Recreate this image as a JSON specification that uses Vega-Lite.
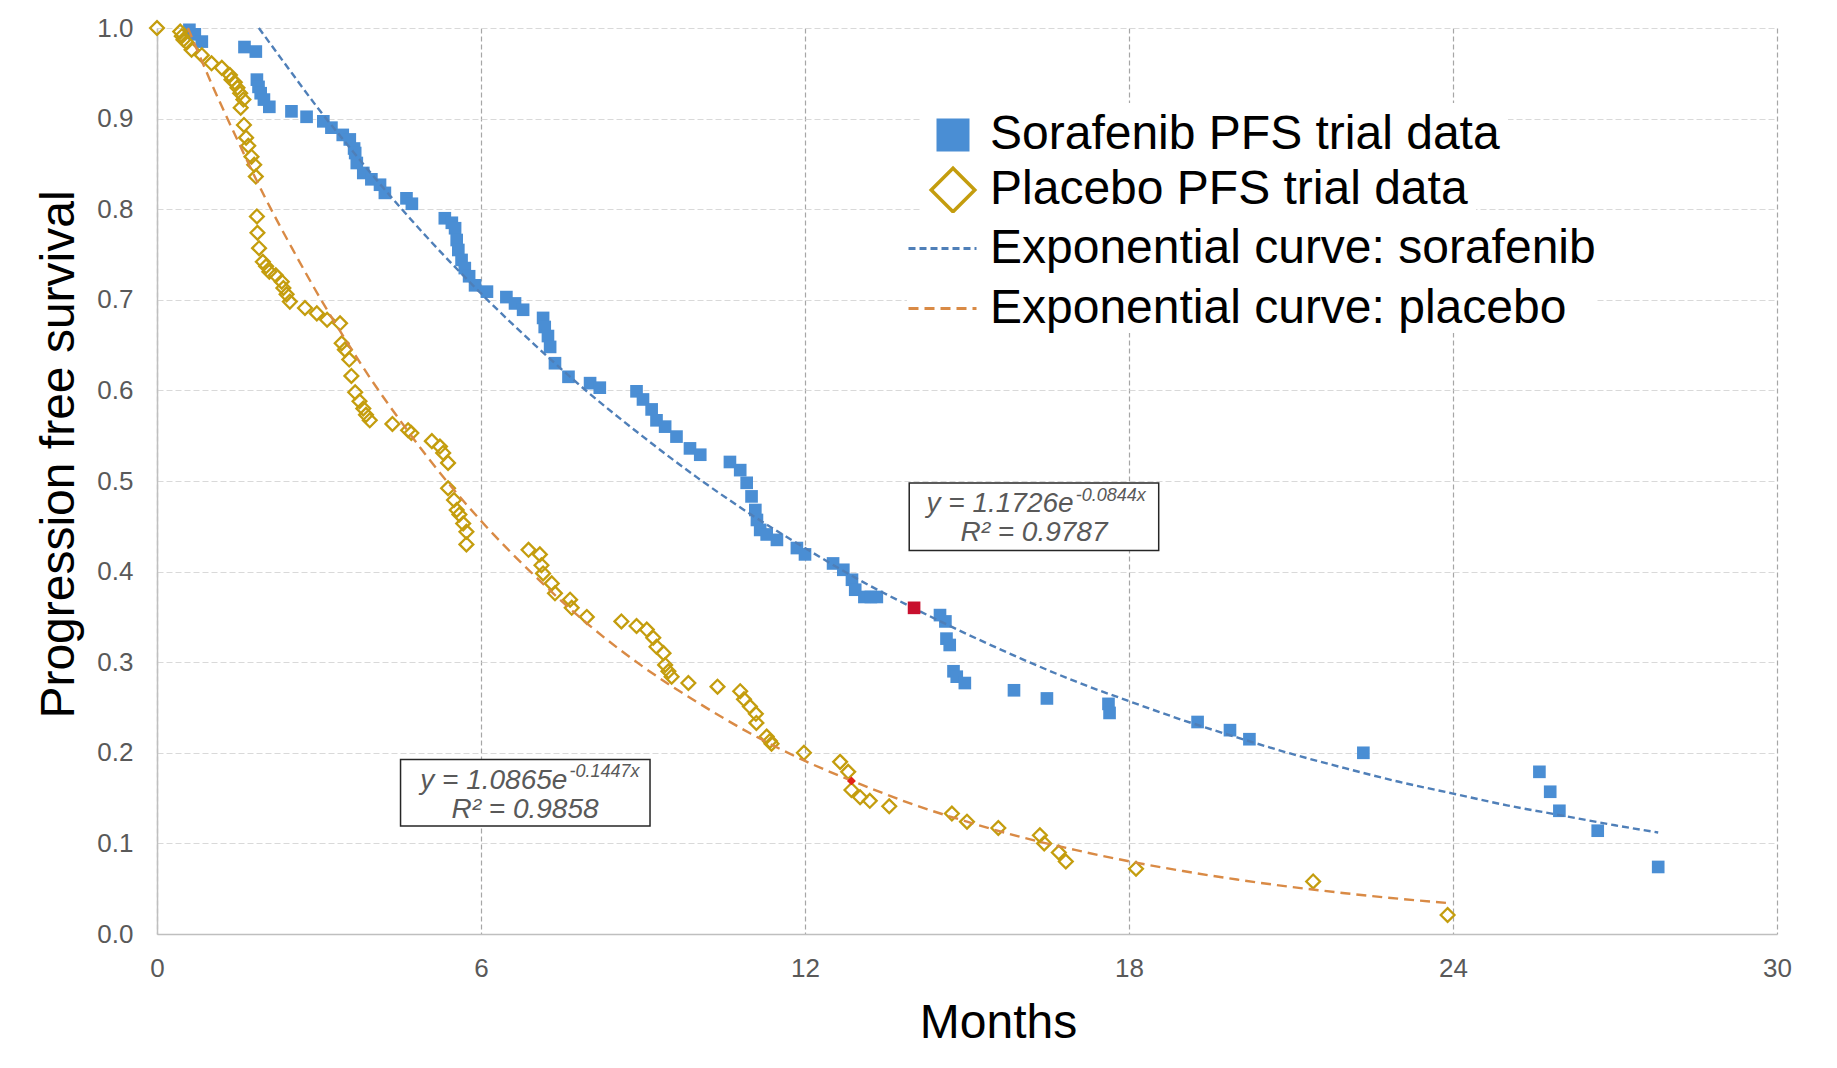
{
  "$schema": "https://vega.github.io/schema/vega-lite/v6.json",
  "width": 1620,
  "height": 906,
  "autosize": {"type": "none"},
  "padding": {"left": 157, "top": 28, "right": 60, "bottom": 134},
  "background": "#ffffff",
  "config": {
    "view": {"stroke": null},
    "font": "Liberation Sans",
    "legend": {"labelFont": "Liberation Sans", "labelFontSize": 48, "labelColor": "#000000", "labelLimit": 0}
  },
  "datasets": {
    "sora": [
      {"month": 0.60, "pfs": 0.998, "series": "Sorafenib PFS trial data"},
      {"month": 0.70, "pfs": 0.993, "series": "Sorafenib PFS trial data"},
      {"month": 0.83, "pfs": 0.985, "series": "Sorafenib PFS trial data"},
      {"month": 1.62, "pfs": 0.979, "series": "Sorafenib PFS trial data"},
      {"month": 1.83, "pfs": 0.974, "series": "Sorafenib PFS trial data"},
      {"month": 1.85, "pfs": 0.943, "series": "Sorafenib PFS trial data"},
      {"month": 1.88, "pfs": 0.935, "series": "Sorafenib PFS trial data"},
      {"month": 1.92, "pfs": 0.928, "series": "Sorafenib PFS trial data"},
      {"month": 1.98, "pfs": 0.921, "series": "Sorafenib PFS trial data"},
      {"month": 2.08, "pfs": 0.913, "series": "Sorafenib PFS trial data"},
      {"month": 2.49, "pfs": 0.908, "series": "Sorafenib PFS trial data"},
      {"month": 2.77, "pfs": 0.902, "series": "Sorafenib PFS trial data"},
      {"month": 3.08, "pfs": 0.897, "series": "Sorafenib PFS trial data"},
      {"month": 3.23, "pfs": 0.890, "series": "Sorafenib PFS trial data"},
      {"month": 3.44, "pfs": 0.882, "series": "Sorafenib PFS trial data"},
      {"month": 3.57, "pfs": 0.877, "series": "Sorafenib PFS trial data"},
      {"month": 3.65, "pfs": 0.867, "series": "Sorafenib PFS trial data"},
      {"month": 3.67, "pfs": 0.862, "series": "Sorafenib PFS trial data"},
      {"month": 3.70, "pfs": 0.851, "series": "Sorafenib PFS trial data"},
      {"month": 3.82, "pfs": 0.840, "series": "Sorafenib PFS trial data"},
      {"month": 3.97, "pfs": 0.833, "series": "Sorafenib PFS trial data"},
      {"month": 4.13, "pfs": 0.827, "series": "Sorafenib PFS trial data"},
      {"month": 4.22, "pfs": 0.818, "series": "Sorafenib PFS trial data"},
      {"month": 4.62, "pfs": 0.812, "series": "Sorafenib PFS trial data"},
      {"month": 4.72, "pfs": 0.806, "series": "Sorafenib PFS trial data"},
      {"month": 5.33, "pfs": 0.790, "series": "Sorafenib PFS trial data"},
      {"month": 5.46, "pfs": 0.785, "series": "Sorafenib PFS trial data"},
      {"month": 5.52, "pfs": 0.779, "series": "Sorafenib PFS trial data"},
      {"month": 5.55, "pfs": 0.766, "series": "Sorafenib PFS trial data"},
      {"month": 5.58, "pfs": 0.755, "series": "Sorafenib PFS trial data"},
      {"month": 5.64, "pfs": 0.744, "series": "Sorafenib PFS trial data"},
      {"month": 5.70, "pfs": 0.735, "series": "Sorafenib PFS trial data"},
      {"month": 5.78, "pfs": 0.726, "series": "Sorafenib PFS trial data"},
      {"month": 5.89, "pfs": 0.716, "series": "Sorafenib PFS trial data"},
      {"month": 6.11, "pfs": 0.709, "series": "Sorafenib PFS trial data"},
      {"month": 6.47, "pfs": 0.703, "series": "Sorafenib PFS trial data"},
      {"month": 6.63, "pfs": 0.696, "series": "Sorafenib PFS trial data"},
      {"month": 6.78, "pfs": 0.689, "series": "Sorafenib PFS trial data"},
      {"month": 7.15, "pfs": 0.680, "series": "Sorafenib PFS trial data"},
      {"month": 7.18, "pfs": 0.670, "series": "Sorafenib PFS trial data"},
      {"month": 7.24, "pfs": 0.660, "series": "Sorafenib PFS trial data"},
      {"month": 7.28, "pfs": 0.648, "series": "Sorafenib PFS trial data"},
      {"month": 7.37, "pfs": 0.630, "series": "Sorafenib PFS trial data"},
      {"month": 7.62, "pfs": 0.615, "series": "Sorafenib PFS trial data"},
      {"month": 8.02, "pfs": 0.608, "series": "Sorafenib PFS trial data"},
      {"month": 8.20, "pfs": 0.603, "series": "Sorafenib PFS trial data"},
      {"month": 8.88, "pfs": 0.599, "series": "Sorafenib PFS trial data"},
      {"month": 9.00, "pfs": 0.590, "series": "Sorafenib PFS trial data"},
      {"month": 9.16, "pfs": 0.579, "series": "Sorafenib PFS trial data"},
      {"month": 9.25, "pfs": 0.567, "series": "Sorafenib PFS trial data"},
      {"month": 9.41, "pfs": 0.560, "series": "Sorafenib PFS trial data"},
      {"month": 9.62, "pfs": 0.549, "series": "Sorafenib PFS trial data"},
      {"month": 9.87, "pfs": 0.536, "series": "Sorafenib PFS trial data"},
      {"month": 10.06, "pfs": 0.529, "series": "Sorafenib PFS trial data"},
      {"month": 10.61, "pfs": 0.521, "series": "Sorafenib PFS trial data"},
      {"month": 10.80, "pfs": 0.512, "series": "Sorafenib PFS trial data"},
      {"month": 10.92, "pfs": 0.498, "series": "Sorafenib PFS trial data"},
      {"month": 11.01, "pfs": 0.483, "series": "Sorafenib PFS trial data"},
      {"month": 11.08, "pfs": 0.468, "series": "Sorafenib PFS trial data"},
      {"month": 11.11, "pfs": 0.457, "series": "Sorafenib PFS trial data"},
      {"month": 11.17, "pfs": 0.446, "series": "Sorafenib PFS trial data"},
      {"month": 11.29, "pfs": 0.441, "series": "Sorafenib PFS trial data"},
      {"month": 11.48, "pfs": 0.435, "series": "Sorafenib PFS trial data"},
      {"month": 11.85, "pfs": 0.426, "series": "Sorafenib PFS trial data"},
      {"month": 12.00, "pfs": 0.419, "series": "Sorafenib PFS trial data"},
      {"month": 12.52, "pfs": 0.409, "series": "Sorafenib PFS trial data"},
      {"month": 12.71, "pfs": 0.402, "series": "Sorafenib PFS trial data"},
      {"month": 12.87, "pfs": 0.391, "series": "Sorafenib PFS trial data"},
      {"month": 12.93, "pfs": 0.380, "series": "Sorafenib PFS trial data"},
      {"month": 13.10, "pfs": 0.372, "series": "Sorafenib PFS trial data"},
      {"month": 13.22, "pfs": 0.372, "series": "Sorafenib PFS trial data"},
      {"month": 13.33, "pfs": 0.372, "series": "Sorafenib PFS trial data"},
      {"month": 14.50, "pfs": 0.352, "series": "Sorafenib PFS trial data"},
      {"month": 14.60, "pfs": 0.345, "series": "Sorafenib PFS trial data"},
      {"month": 14.62, "pfs": 0.326, "series": "Sorafenib PFS trial data"},
      {"month": 14.68, "pfs": 0.319, "series": "Sorafenib PFS trial data"},
      {"month": 14.75, "pfs": 0.290, "series": "Sorafenib PFS trial data"},
      {"month": 14.81, "pfs": 0.284, "series": "Sorafenib PFS trial data"},
      {"month": 14.96, "pfs": 0.277, "series": "Sorafenib PFS trial data"},
      {"month": 15.87, "pfs": 0.269, "series": "Sorafenib PFS trial data"},
      {"month": 16.48, "pfs": 0.260, "series": "Sorafenib PFS trial data"},
      {"month": 17.62, "pfs": 0.254, "series": "Sorafenib PFS trial data"},
      {"month": 17.64, "pfs": 0.244, "series": "Sorafenib PFS trial data"},
      {"month": 19.27, "pfs": 0.234, "series": "Sorafenib PFS trial data"},
      {"month": 19.87, "pfs": 0.225, "series": "Sorafenib PFS trial data"},
      {"month": 20.23, "pfs": 0.215, "series": "Sorafenib PFS trial data"},
      {"month": 22.34, "pfs": 0.200, "series": "Sorafenib PFS trial data"},
      {"month": 25.60, "pfs": 0.179, "series": "Sorafenib PFS trial data"},
      {"month": 25.80, "pfs": 0.157, "series": "Sorafenib PFS trial data"},
      {"month": 25.97, "pfs": 0.136, "series": "Sorafenib PFS trial data"},
      {"month": 26.68, "pfs": 0.114, "series": "Sorafenib PFS trial data"},
      {"month": 27.80, "pfs": 0.074, "series": "Sorafenib PFS trial data"}
    ],
    "plac": [
      {"month": 0.00, "pfs": 1.000, "series": "Placebo PFS trial data"},
      {"month": 0.43, "pfs": 0.996, "series": "Placebo PFS trial data"},
      {"month": 0.46, "pfs": 0.991, "series": "Placebo PFS trial data"},
      {"month": 0.49, "pfs": 0.987, "series": "Placebo PFS trial data"},
      {"month": 0.55, "pfs": 0.984, "series": "Placebo PFS trial data"},
      {"month": 0.64, "pfs": 0.976, "series": "Placebo PFS trial data"},
      {"month": 0.83, "pfs": 0.970, "series": "Placebo PFS trial data"},
      {"month": 1.01, "pfs": 0.961, "series": "Placebo PFS trial data"},
      {"month": 1.20, "pfs": 0.956, "series": "Placebo PFS trial data"},
      {"month": 1.35, "pfs": 0.948, "series": "Placebo PFS trial data"},
      {"month": 1.38, "pfs": 0.943, "series": "Placebo PFS trial data"},
      {"month": 1.44, "pfs": 0.940, "series": "Placebo PFS trial data"},
      {"month": 1.49, "pfs": 0.934, "series": "Placebo PFS trial data"},
      {"month": 1.54, "pfs": 0.928, "series": "Placebo PFS trial data"},
      {"month": 1.60, "pfs": 0.921, "series": "Placebo PFS trial data"},
      {"month": 1.55, "pfs": 0.912, "series": "Placebo PFS trial data"},
      {"month": 1.61, "pfs": 0.893, "series": "Placebo PFS trial data"},
      {"month": 1.65, "pfs": 0.879, "series": "Placebo PFS trial data"},
      {"month": 1.69, "pfs": 0.870, "series": "Placebo PFS trial data"},
      {"month": 1.75, "pfs": 0.858, "series": "Placebo PFS trial data"},
      {"month": 1.80, "pfs": 0.849, "series": "Placebo PFS trial data"},
      {"month": 1.83, "pfs": 0.836, "series": "Placebo PFS trial data"},
      {"month": 1.85, "pfs": 0.792, "series": "Placebo PFS trial data"},
      {"month": 1.86, "pfs": 0.774, "series": "Placebo PFS trial data"},
      {"month": 1.89, "pfs": 0.757, "series": "Placebo PFS trial data"},
      {"month": 1.96, "pfs": 0.742, "series": "Placebo PFS trial data"},
      {"month": 2.02, "pfs": 0.737, "series": "Placebo PFS trial data"},
      {"month": 2.08, "pfs": 0.731, "series": "Placebo PFS trial data"},
      {"month": 2.20, "pfs": 0.727, "series": "Placebo PFS trial data"},
      {"month": 2.31, "pfs": 0.720, "series": "Placebo PFS trial data"},
      {"month": 2.34, "pfs": 0.713, "series": "Placebo PFS trial data"},
      {"month": 2.40, "pfs": 0.706, "series": "Placebo PFS trial data"},
      {"month": 2.46, "pfs": 0.698, "series": "Placebo PFS trial data"},
      {"month": 2.74, "pfs": 0.691, "series": "Placebo PFS trial data"},
      {"month": 2.96, "pfs": 0.685, "series": "Placebo PFS trial data"},
      {"month": 3.15, "pfs": 0.678, "series": "Placebo PFS trial data"},
      {"month": 3.39, "pfs": 0.674, "series": "Placebo PFS trial data"},
      {"month": 3.42, "pfs": 0.652, "series": "Placebo PFS trial data"},
      {"month": 3.48, "pfs": 0.645, "series": "Placebo PFS trial data"},
      {"month": 3.56, "pfs": 0.634, "series": "Placebo PFS trial data"},
      {"month": 3.60, "pfs": 0.616, "series": "Placebo PFS trial data"},
      {"month": 3.67, "pfs": 0.598, "series": "Placebo PFS trial data"},
      {"month": 3.75, "pfs": 0.588, "series": "Placebo PFS trial data"},
      {"month": 3.82, "pfs": 0.580, "series": "Placebo PFS trial data"},
      {"month": 3.87, "pfs": 0.573, "series": "Placebo PFS trial data"},
      {"month": 3.94, "pfs": 0.567, "series": "Placebo PFS trial data"},
      {"month": 4.36, "pfs": 0.563, "series": "Placebo PFS trial data"},
      {"month": 4.65, "pfs": 0.556, "series": "Placebo PFS trial data"},
      {"month": 4.71, "pfs": 0.553, "series": "Placebo PFS trial data"},
      {"month": 5.09, "pfs": 0.544, "series": "Placebo PFS trial data"},
      {"month": 5.24, "pfs": 0.538, "series": "Placebo PFS trial data"},
      {"month": 5.30, "pfs": 0.531, "series": "Placebo PFS trial data"},
      {"month": 5.39, "pfs": 0.520, "series": "Placebo PFS trial data"},
      {"month": 5.39, "pfs": 0.492, "series": "Placebo PFS trial data"},
      {"month": 5.50, "pfs": 0.479, "series": "Placebo PFS trial data"},
      {"month": 5.55, "pfs": 0.468, "series": "Placebo PFS trial data"},
      {"month": 5.60, "pfs": 0.463, "series": "Placebo PFS trial data"},
      {"month": 5.67, "pfs": 0.453, "series": "Placebo PFS trial data"},
      {"month": 5.73, "pfs": 0.444, "series": "Placebo PFS trial data"},
      {"month": 5.73, "pfs": 0.430, "series": "Placebo PFS trial data"},
      {"month": 6.88, "pfs": 0.424, "series": "Placebo PFS trial data"},
      {"month": 7.09, "pfs": 0.419, "series": "Placebo PFS trial data"},
      {"month": 7.12, "pfs": 0.407, "series": "Placebo PFS trial data"},
      {"month": 7.15, "pfs": 0.398, "series": "Placebo PFS trial data"},
      {"month": 7.31, "pfs": 0.387, "series": "Placebo PFS trial data"},
      {"month": 7.37, "pfs": 0.376, "series": "Placebo PFS trial data"},
      {"month": 7.65, "pfs": 0.369, "series": "Placebo PFS trial data"},
      {"month": 7.68, "pfs": 0.360, "series": "Placebo PFS trial data"},
      {"month": 7.96, "pfs": 0.350, "series": "Placebo PFS trial data"},
      {"month": 8.60, "pfs": 0.345, "series": "Placebo PFS trial data"},
      {"month": 8.88, "pfs": 0.340, "series": "Placebo PFS trial data"},
      {"month": 9.07, "pfs": 0.336, "series": "Placebo PFS trial data"},
      {"month": 9.19, "pfs": 0.327, "series": "Placebo PFS trial data"},
      {"month": 9.25, "pfs": 0.317, "series": "Placebo PFS trial data"},
      {"month": 9.38, "pfs": 0.310, "series": "Placebo PFS trial data"},
      {"month": 9.41, "pfs": 0.297, "series": "Placebo PFS trial data"},
      {"month": 9.47, "pfs": 0.290, "series": "Placebo PFS trial data"},
      {"month": 9.53, "pfs": 0.284, "series": "Placebo PFS trial data"},
      {"month": 9.84, "pfs": 0.277, "series": "Placebo PFS trial data"},
      {"month": 10.38, "pfs": 0.273, "series": "Placebo PFS trial data"},
      {"month": 10.80, "pfs": 0.268, "series": "Placebo PFS trial data"},
      {"month": 10.87, "pfs": 0.259, "series": "Placebo PFS trial data"},
      {"month": 10.98, "pfs": 0.251, "series": "Placebo PFS trial data"},
      {"month": 11.09, "pfs": 0.243, "series": "Placebo PFS trial data"},
      {"month": 11.10, "pfs": 0.233, "series": "Placebo PFS trial data"},
      {"month": 11.29, "pfs": 0.218, "series": "Placebo PFS trial data"},
      {"month": 11.35, "pfs": 0.213, "series": "Placebo PFS trial data"},
      {"month": 11.38, "pfs": 0.210, "series": "Placebo PFS trial data"},
      {"month": 11.98, "pfs": 0.200, "series": "Placebo PFS trial data"},
      {"month": 12.65, "pfs": 0.190, "series": "Placebo PFS trial data"},
      {"month": 12.80, "pfs": 0.179, "series": "Placebo PFS trial data"},
      {"month": 12.86, "pfs": 0.159, "series": "Placebo PFS trial data"},
      {"month": 13.02, "pfs": 0.151, "series": "Placebo PFS trial data"},
      {"month": 13.20, "pfs": 0.147, "series": "Placebo PFS trial data"},
      {"month": 13.56, "pfs": 0.141, "series": "Placebo PFS trial data"},
      {"month": 14.72, "pfs": 0.133, "series": "Placebo PFS trial data"},
      {"month": 15.00, "pfs": 0.124, "series": "Placebo PFS trial data"},
      {"month": 15.58, "pfs": 0.117, "series": "Placebo PFS trial data"},
      {"month": 16.35, "pfs": 0.109, "series": "Placebo PFS trial data"},
      {"month": 16.43, "pfs": 0.100, "series": "Placebo PFS trial data"},
      {"month": 16.70, "pfs": 0.090, "series": "Placebo PFS trial data"},
      {"month": 16.83, "pfs": 0.080, "series": "Placebo PFS trial data"},
      {"month": 18.13, "pfs": 0.072, "series": "Placebo PFS trial data"},
      {"month": 21.41, "pfs": 0.058, "series": "Placebo PFS trial data"},
      {"month": 23.90, "pfs": 0.021, "series": "Placebo PFS trial data"}
    ],
    "curves": [
      {"month": 1.886, "pfs": 1.000, "series": "Exponential curve: sorafenib"},
      {"month": 2.5, "pfs": 0.950, "series": "Exponential curve: sorafenib"},
      {"month": 3, "pfs": 0.910, "series": "Exponential curve: sorafenib"},
      {"month": 3.5, "pfs": 0.873, "series": "Exponential curve: sorafenib"},
      {"month": 4, "pfs": 0.837, "series": "Exponential curve: sorafenib"},
      {"month": 5, "pfs": 0.769, "series": "Exponential curve: sorafenib"},
      {"month": 6, "pfs": 0.707, "series": "Exponential curve: sorafenib"},
      {"month": 7, "pfs": 0.650, "series": "Exponential curve: sorafenib"},
      {"month": 8, "pfs": 0.597, "series": "Exponential curve: sorafenib"},
      {"month": 9, "pfs": 0.549, "series": "Exponential curve: sorafenib"},
      {"month": 10, "pfs": 0.504, "series": "Exponential curve: sorafenib"},
      {"month": 11, "pfs": 0.463, "series": "Exponential curve: sorafenib"},
      {"month": 12, "pfs": 0.426, "series": "Exponential curve: sorafenib"},
      {"month": 13, "pfs": 0.391, "series": "Exponential curve: sorafenib"},
      {"month": 14, "pfs": 0.360, "series": "Exponential curve: sorafenib"},
      {"month": 15, "pfs": 0.331, "series": "Exponential curve: sorafenib"},
      {"month": 16, "pfs": 0.304, "series": "Exponential curve: sorafenib"},
      {"month": 17, "pfs": 0.279, "series": "Exponential curve: sorafenib"},
      {"month": 18, "pfs": 0.257, "series": "Exponential curve: sorafenib"},
      {"month": 19, "pfs": 0.236, "series": "Exponential curve: sorafenib"},
      {"month": 20, "pfs": 0.217, "series": "Exponential curve: sorafenib"},
      {"month": 21, "pfs": 0.199, "series": "Exponential curve: sorafenib"},
      {"month": 22, "pfs": 0.183, "series": "Exponential curve: sorafenib"},
      {"month": 23, "pfs": 0.168, "series": "Exponential curve: sorafenib"},
      {"month": 24, "pfs": 0.155, "series": "Exponential curve: sorafenib"},
      {"month": 25, "pfs": 0.142, "series": "Exponential curve: sorafenib"},
      {"month": 26, "pfs": 0.131, "series": "Exponential curve: sorafenib"},
      {"month": 27, "pfs": 0.120, "series": "Exponential curve: sorafenib"},
      {"month": 27.8, "pfs": 0.112, "series": "Exponential curve: sorafenib"},
      {"month": 0.573, "pfs": 1.000, "series": "Exponential curve: placebo"},
      {"month": 1, "pfs": 0.940, "series": "Exponential curve: placebo"},
      {"month": 1.5, "pfs": 0.875, "series": "Exponential curve: placebo"},
      {"month": 2, "pfs": 0.813, "series": "Exponential curve: placebo"},
      {"month": 2.5, "pfs": 0.757, "series": "Exponential curve: placebo"},
      {"month": 3, "pfs": 0.704, "series": "Exponential curve: placebo"},
      {"month": 3.5, "pfs": 0.655, "series": "Exponential curve: placebo"},
      {"month": 4, "pfs": 0.609, "series": "Exponential curve: placebo"},
      {"month": 4.5, "pfs": 0.567, "series": "Exponential curve: placebo"},
      {"month": 5, "pfs": 0.527, "series": "Exponential curve: placebo"},
      {"month": 6, "pfs": 0.456, "series": "Exponential curve: placebo"},
      {"month": 7, "pfs": 0.395, "series": "Exponential curve: placebo"},
      {"month": 8, "pfs": 0.341, "series": "Exponential curve: placebo"},
      {"month": 9, "pfs": 0.295, "series": "Exponential curve: placebo"},
      {"month": 10, "pfs": 0.256, "series": "Exponential curve: placebo"},
      {"month": 11, "pfs": 0.221, "series": "Exponential curve: placebo"},
      {"month": 12, "pfs": 0.191, "series": "Exponential curve: placebo"},
      {"month": 13, "pfs": 0.166, "series": "Exponential curve: placebo"},
      {"month": 14, "pfs": 0.143, "series": "Exponential curve: placebo"},
      {"month": 15, "pfs": 0.124, "series": "Exponential curve: placebo"},
      {"month": 16, "pfs": 0.107, "series": "Exponential curve: placebo"},
      {"month": 17, "pfs": 0.0928, "series": "Exponential curve: placebo"},
      {"month": 18, "pfs": 0.0803, "series": "Exponential curve: placebo"},
      {"month": 19, "pfs": 0.0695, "series": "Exponential curve: placebo"},
      {"month": 20, "pfs": 0.0601, "series": "Exponential curve: placebo"},
      {"month": 21, "pfs": 0.0520, "series": "Exponential curve: placebo"},
      {"month": 22, "pfs": 0.0450, "series": "Exponential curve: placebo"},
      {"month": 23, "pfs": 0.0389, "series": "Exponential curve: placebo"},
      {"month": 23.9, "pfs": 0.0342, "series": "Exponential curve: placebo"}
    ],
    "boxes": [
      {"month": 13.93, "month2": 18.55, "pfs": 0.4979, "pfs2": 0.4233},
      {"month": 4.51, "month2": 9.13, "pfs": 0.1926, "pfs2": 0.1192}
    ],
    "eqmain": [
      {"month": 16.975, "pfs": 0.4660, "label": "y = 1.1726e"},
      {"month": 7.60, "pfs": 0.1600, "label": "y = 1.0865e"}
    ],
    "eqsup": [
      {"month": 16.975, "pfs": 0.4777, "label": "-0.0844x"},
      {"month": 7.60, "pfs": 0.1737, "label": "-0.1447x"}
    ],
    "eqr2": [
      {"month": 16.24, "pfs": 0.4337, "label": "R² = 0.9787"},
      {"month": 6.815, "pfs": 0.1281, "label": "R² = 0.9858"}
    ]
  },
  "encoding": {
    "x": {
      "field": "month", "type": "quantitative",
      "scale": {"domain": [0, 30], "nice": false, "zero": false},
      "axis": {
        "values": [0, 6, 12, 18, 24, 30],
        "title": "Months",
        "titleFont": "Liberation Sans", "titleFontSize": 48, "titleFontWeight": "normal", "titleColor": "#000000",
        "titleX": 841, "titleY": 103, "titleBaseline": "alphabetic", "titleAlign": "center",
        "labelFont": "Liberation Sans", "labelFontSize": 26, "labelColor": "#595959",
        "labelPadding": 42, "labelBaseline": "alphabetic", "labelFlush": false, "labelOverlap": false,
        "ticks": false, "tickSize": 0,
        "domainColor": "#bfbfbf", "domainWidth": 1.5,
        "grid": true, "gridColor": "#a6a6a6", "gridDash": [5, 3], "gridWidth": 1.2
      }
    },
    "y": {
      "field": "pfs", "type": "quantitative",
      "scale": {"domain": [0, 1], "nice": false},
      "axis": {
        "values": [0, 0.1, 0.2, 0.3, 0.4, 0.5, 0.6, 0.7, 0.8, 0.9, 1.0],
        "format": ".1f",
        "title": "Progression free survival",
        "titleFont": "Liberation Sans", "titleFontSize": 48, "titleFontWeight": "normal", "titleColor": "#000000",
        "titleX": -84, "titleY": 426, "titleBaseline": "alphabetic", "titleAlign": "center", "titleAngle": 270,
        "labelFont": "Liberation Sans", "labelFontSize": 26, "labelColor": "#595959",
        "labelPadding": 24, "labelFlush": false, "labelOverlap": false,
        "ticks": false, "tickSize": 0,
        "domainColor": "#bfbfbf", "domainWidth": 1.5,
        "grid": true, "gridColor": "#d9d9d9", "gridDash": [6, 3], "gridWidth": 1.2
      }
    }
  },
  "layer": [
    {
      "data": {"name": "boxes"},
      "mark": {"type": "rect", "fill": "#ffffff", "stroke": "#262626", "strokeWidth": 1.5},
      "encoding": {"x2": {"field": "month2"}, "y2": {"field": "pfs2"}}
    },
    {
      "data": {"name": "sora"},
      "mark": {"type": "point", "shape": "square", "filled": true, "size": 160, "opacity": 1},
      "encoding": {
        "fill": {"field": "series", "type": "nominal",
          "scale": {"domain": ["Sorafenib PFS trial data"], "range": ["#4a8ed4"]},
          "legend": {"title": null, "orient": "none", "legendX": 764, "legendY": 75, "padding": 8, "fillColor": "#ffffff", "labelOffset": 13, "symbolType": "square", "symbolSize": 1089, "symbolStrokeWidth": 0}
        }
      }
    },
    {
      "data": {"name": "plac"},
      "mark": {"type": "point", "shape": "diamond", "filled": false, "size": 190, "strokeWidth": 2.3, "opacity": 1},
      "encoding": {
        "stroke": {"field": "series", "type": "nominal",
          "scale": {"domain": ["Placebo PFS trial data"], "range": ["#c49d0e"]},
          "legend": {"title": null, "orient": "none", "legendX": 764, "legendY": 130, "padding": 8, "fillColor": "#ffffff", "labelOffset": 13, "symbolType": "diamond", "symbolSize": 1900, "symbolStrokeWidth": 3.5, "symbolFillColor": "transparent"}
        }
      }
    },
    {
      "data": {"name": "curves"},
      "mark": {"type": "line", "strokeWidth": 2.4, "interpolate": "monotone"},
      "encoding": {
        "color": {"field": "series", "type": "nominal",
          "scale": {"domain": ["Exponential curve: sorafenib", "Exponential curve: placebo"], "range": ["#4f7fb8", "#d98a45"]},
          "legend": {"title": null, "orient": "none", "legendX": 750, "legendY": 185, "padding": 0, "fillColor": "#ffffff", "labelOffset": 12, "rowPadding": -12, "symbolSize": 4624, "symbolStrokeWidth": 3, "symbolType": "stroke"}
        },
        "strokeDash": {"field": "series", "type": "nominal",
          "scale": {"domain": ["Exponential curve: sorafenib", "Exponential curve: placebo"], "range": [[7, 4], [10, 6]]},
          "legend": {"title": null, "orient": "none", "legendX": 750, "legendY": 185, "padding": 0, "fillColor": "#ffffff", "labelOffset": 12, "rowPadding": -12, "symbolSize": 4624, "symbolStrokeWidth": 3, "symbolType": "stroke"}
        }
      }
    },
    {
      "data": {"values": [{"month": 14.02, "pfs": 0.360}]},
      "mark": {"type": "square", "size": 160, "color": "#c8102e", "opacity": 1}
    },
    {
      "data": {"values": [{"month": 12.86, "pfs": 0.169}]},
      "mark": {"type": "point", "shape": "diamond", "filled": true, "size": 80, "color": "#e3221b", "opacity": 1}
    },
    {
      "data": {"name": "eqmain"},
      "mark": {"type": "text", "align": "right", "baseline": "alphabetic", "font": "Liberation Sans", "fontStyle": "italic", "fontSize": 28, "color": "#595959"},
      "encoding": {"text": {"field": "label"}}
    },
    {
      "data": {"name": "eqsup"},
      "mark": {"type": "text", "align": "left", "baseline": "alphabetic", "dx": 2, "font": "Liberation Sans", "fontStyle": "italic", "fontSize": 18, "color": "#595959"},
      "encoding": {"text": {"field": "label"}}
    },
    {
      "data": {"name": "eqr2"},
      "mark": {"type": "text", "align": "center", "baseline": "alphabetic", "font": "Liberation Sans", "fontStyle": "italic", "fontSize": 28, "color": "#595959"},
      "encoding": {"text": {"field": "label"}}
    }
  ]
}
